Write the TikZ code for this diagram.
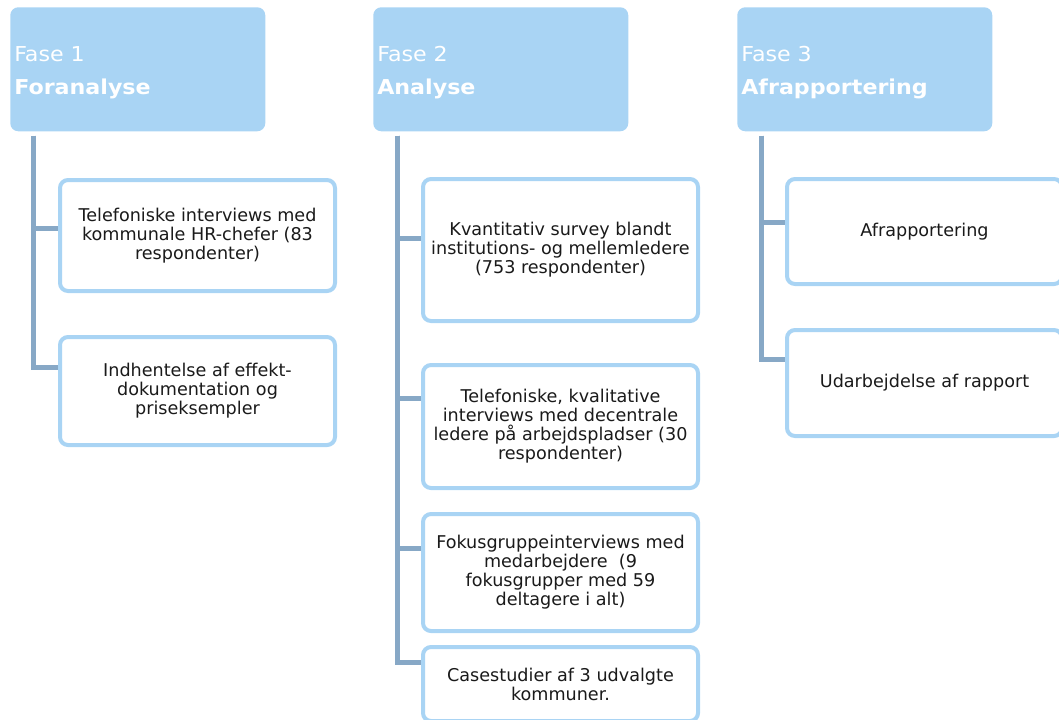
\documentclass[tikz,border=0pt]{standalone}
\usepackage{fontspec}
\setmainfont{DejaVu Sans}
\newfontfamily\hdrfont{DejaVu Sans}[FakeStretch=1.08]
\usetikzlibrary{calc}
\definecolor{hdr}{HTML}{A9D4F4}
\definecolor{trk}{HTML}{87A8C6}
\definecolor{txt}{HTML}{1A1A1A}
\begin{document}
\begin{tikzpicture}[x=0.75pt,y=-0.75pt,
  header/.style={fill=hdr,draw=none,rounded corners=6pt,anchor=north west,
    minimum width=191.25pt,minimum height=93pt,text=white,align=left,
    text width=185.25pt,inner xsep=3pt,
    font=\hdrfont\fontsize{15.4pt}{24.75pt}\selectfont},
  child/.style={fill=white,draw=hdr,line width=3pt,rounded corners=6pt,
    anchor=north west,minimum width=206.25pt,align=center,text=txt,
    font=\fontsize{13.2pt}{14.3pt}\selectfont},
  trunk/.style={draw=trk,line width=3.75pt}]
\useasboundingbox (0,0) rectangle (1059,719);
\clip (0,0) rectangle (1059,719);
% headers
\node[header] (h1) at (10,7) {\rule{0pt}{16pt}Fase 1\\\textbf{Foranalyse}};
\node[header] (h2) at (373,7) {\rule{0pt}{16pt}Fase 2\\\textbf{Analyse}};
\node[header] (h3) at (737,7) {\rule{0pt}{16pt}Fase 3\\\textbf{Afrapportering}};
\coordinate (t1) at ($(h1.south west)+(23,4)$);
\coordinate (t2) at ($(h2.south west)+(24,4)$);
\coordinate (t3) at ($(h3.south west)+(24,4)$);
% column 1
\node[child,minimum height=83.25pt] (c11) at (58,178) {Telefoniske interviews med\\kommunale HR-chefer (83\\respondenter)};
\node[child,minimum height=81pt] (c12) at (58,335) {Indhentelse af effekt-\\dokumentation og\\priseksempler};
% column 2
\node[child,minimum height=106.5pt] (c21) at (421,177) {Kvantitativ survey blandt\\institutions- og mellemledere\\(753 respondenter)};
\node[child,minimum height=92.25pt] (c22) at (421,363) {Telefoniske, kvalitative\\interviews med decentrale\\ledere på arbejdspladser (30\\respondenter)};
\node[child,minimum height=87.75pt] (c23) at (421,512) {Fokusgruppeinterviews med\\medarbejdere~~(9\\fokusgrupper med 59\\deltagere i alt)};
\node[child,minimum height=55.5pt] (c24) at (421,645) {Casestudier af 3 udvalgte\\kommuner.};
% column 3
\node[child,minimum height=78.75pt] (c31) at (785,177) {Afrapportering};
\node[child,minimum height=79.5pt] (c32) at (785,328) {Udarbejdelse af rapport};
% connectors
\draw[trunk] (t1) |- ($(c12.north west)+(0,32)$);
\draw[trunk] (t1) |- ($(c11.north west)+(0,50)$);
\draw[trunk] (t2) |- ($(c24.north west)+(0,17)$);
\draw[trunk] (t2) |- ($(c21.north west)+(0,61)$);
\draw[trunk] (t2) |- ($(c22.north west)+(0,35)$);
\draw[trunk] (t2) |- ($(c23.north west)+(0,36)$);
\draw[trunk] (t3) |- ($(c32.north west)+(0,31)$);
\draw[trunk] (t3) |- ($(c31.north west)+(0,45)$);
\end{tikzpicture}
\end{document}
